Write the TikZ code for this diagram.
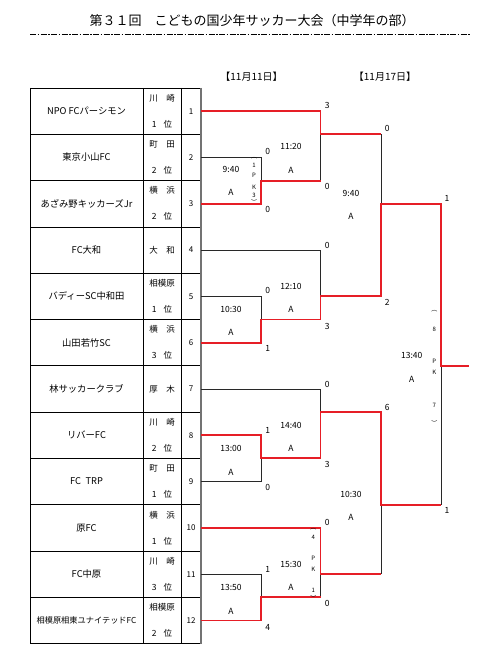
\documentclass[tikz,border=0pt]{standalone}
\usepackage{fontspec}
\setmainfont{Noto Sans CJK JP}
\definecolor{wred}{RGB}{230,30,38}
\definecolor{gline}{RGB}{40,40,40}
\begin{document}
\begin{tikzpicture}[x=1pt,y=-1pt,
  blk/.style={draw=gline, line width=0.9pt},
  redl/.style={draw=wred, line width=1.9pt},
  grid/.style={draw=black, line width=0.8pt},
  team/.style={inner sep=0pt, font=\fontsize{9.3}{11}\selectfont},
  reg/.style={inner sep=0pt, font=\fontsize{8.5}{10}\selectfont},
  num/.style={inner sep=0pt, font=\fontsize{8}{10}\selectfont},
  sc/.style={inner sep=0pt, font=\fontsize{8.5}{10}\selectfont},
  tm/.style={inner sep=0pt, font=\fontsize{8.5}{10}\selectfont},
  pk/.style={inner sep=0pt, font=\fontsize{6}{7}\selectfont}]
\useasboundingbox (0,0) rectangle (500,650);
\fill[white] (0,0) rectangle (500,650);
% title
\node[inner sep=0pt, font=\fontsize{13}{15}\selectfont] (title) at (252,21) {第３１回　こどもの国少年サッカー大会（中学年の部）};
\coordinate (dl) at (30,34.3);
\coordinate (dr) at (470,34.3);
\draw[line width=0.8pt, dash pattern=on 6pt off 1.5pt on 1.5pt off 1.5pt] (dl) -- (dr);
\node[inner sep=0pt, font=\fontsize{10}{12}\selectfont] (d1) at (251.5,77) {【11月11日】};
\node[inner sep=0pt, font=\fontsize{10}{12}\selectfont] (d2) at (385,77) {【11月17日】};
% table
\foreach \i in {0,...,12}{\coordinate (rl\i) at (30,{88+\i*46.3}); \coordinate (rr\i) at (201,{88+\i*46.3});}
\coordinate (c1t) at (143,88); \coordinate (c1b) at (143,643.6);
\coordinate (c2t) at (181,88); \coordinate (c2b) at (181,643.6);
\foreach \i in {0,...,12}{\draw[grid] (rl\i) -- (rr\i);}
\draw[grid] (rl0) -- (rl12);
\draw[grid] (c1t) -- (c1b);
\draw[grid] (c2t) -- (c2b);
\draw[draw=black!55, line width=1.4pt] (rr0) -- (rr12);
% bracket coordinates
\foreach \i/\x in {0/201,1/261,2/320.5,3/381,4/441,5/469}{
  \foreach \k in {1,...,23}{\coordinate (p\i-\k) at (\x,{88+\k*23.15});}}
% black segments
\draw[blk] (p0-3) -- (p1-3) -- (p1-4);
\draw[blk] (p2-4) -- (p2-2);
\draw[blk] (p3-2) -- (p3-5);
\draw[blk] (p0-7) -- (p2-7) -- (p2-9);
\draw[blk] (p0-9) -- (p1-9) -- (p1-10);
\draw[blk] (p0-13) -- (p2-13) -- (p2-14);
\draw[blk] (p0-17) -- (p1-17) -- (p1-16);
\draw[blk] (p4-18) -- (p4-12);
\draw[blk] (p3-21) -- (p3-18);
\draw[blk] (p0-21) -- (p1-21) -- (p1-22);
\draw[blk] (p2-22) -- (p2-21);
% red segments
\draw[redl] (p0-1) -- (p2-1) -- (p2-2) -- (p3-2);
\draw[redl] (p0-5) -- (p1-5) -- (p1-4) -- (p2-4);
\draw[redl] (p0-11) -- (p1-11) -- (p1-10) -- (p2-10) -- (p2-9) -- (p3-9) -- (p3-5) -- (p4-5) -- (p4-12) -- (p5-12);
\draw[redl] (p0-15) -- (p1-15) -- (p1-16) -- (p2-16) -- (p2-14) -- (p3-14) -- (p3-18) -- (p4-18);
\draw[redl] (p0-19) -- (p2-19) -- (p2-21) -- (p3-21);
\draw[redl] (p0-23) -- (p1-23) -- (p1-22) -- (p2-22);
% team names
\foreach \i/\t in {1/NPO FCパーシモン,2/東京小山FC,3/あざみ野キッカーズJr,4/FC大和,5/バディーSC中和田,6/山田若竹SC,7/林サッカークラブ,8/リバーFC,9/FC\hspace{0.5em}TRP,10/原FC,11/FC中原}{
  \node[team] (tn\i) at (86.5,{88+(2*\i-1)*23.15}) {\t};
  \node[num] (tno\i) at (191,{88+(2*\i-1)*23.15}) {\i};}
\node[inner sep=0pt, font=\fontsize{8.2}{10}\selectfont] (tn12) at (86.5,{88+23*23.15}) {相模原相東ユナイテッドFC};
\node[num] (tno12) at (191,{88+23*23.15}) {12};
% regions
\foreach \i/\a/\b in {1/川　崎/1,2/町　田/2,3/横　浜/2,5/相模原/1,6/横　浜/3,8/川　崎/2,9/町　田/1,10/横　浜/1,11/川　崎/3,12/相模原/2}{
  \node[reg] (ra\i) at (162,{88+(2*\i-1)*23.15-13}) {\a};
  \node[reg] (rb\i) at (162,{88+(2*\i-1)*23.15+13}) {\b\hspace{0.8em}位};}
\node[reg] (ra4) at (162,{88+7*23.15}) {大　和};
\node[reg] (ra7) at (162,{88+13*23.15}) {厚　木};
% times
\foreach \n/\x/\y/\t in {a/231/169.3/9:40, b/291/146.7/11:20, c/351/193.3/9:40, d/231/309.3/10:30, e/291/286/12:10, f/231/448.7/13:00, g/291/425/14:40, h/231/587.7/13:50, i/291/564.3/15:30, j/351/494.3/10:30, k/411.7/355.7/13:40}{
  \node[tm] (tm\n) at (\x,\y) {\t};
  \node[tm] (ct\n) at (\x,{\y+23.5}) {A};}
% scores
\foreach \n/\x/\y/\t in {1/327.3/105/3, 2/327.3/186/0, 3/267.7/151/0, 4/267.7/209.3/0, 5/387.3/128.7/0, 6/387.3/302.7/2, 7/447/198.7/1, 8/447/510.7/1, 9/267.7/290.7/0, 10/267.7/348.7/1, 11/327.3/245/0, 12/327.3/326/3, 13/267.7/430/1, 14/267.7/487.7/0, 15/327.3/384/0, 16/327.3/464.3/3, 17/267.7/569.3/1, 18/267.7/627.3/4, 19/327.3/522/0, 20/327.3/603/0, 21/387.3/407/6}{
  \node[sc] (sc\n) at (\x,\y) {\t};}
% PK
\foreach \n/\x/\y/\t in {a1/254/157.7/︵, a2/254/165/1, a3/254/175.7/P, a4/254/187/K, a5/254/195.3/3, a6/254/202/︶,
  b1/313.3/529/︵, b2/313.3/537.3/4, b3/313.3/558.3/P, b4/313.3/569.3/K, b5/313.3/590/1, b6/313.3/597.7/︶,
  c1/434.3/310.7/︵, c2/434.3/329.3/8, c3/434.3/361/P, c4/434.3/372.3/K, c5/434.3/405.7/7, c6/434.3/423.3/︶}{
  \node[pk] (pk\n) at (\x,\y) {\t};}
\end{tikzpicture}
\end{document}
